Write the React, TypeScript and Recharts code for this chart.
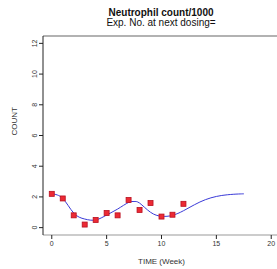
import React from 'react';
import { ComposedChart, Line, Scatter, XAxis, YAxis, ReferenceLine } from 'recharts';

const weeks = [0, 1, 2, 3, 4, 5, 6, 7, 8, 9, 10, 11, 12];
const observed = [2.2, 1.9, 0.8, 0.2, 0.5, 0.95, 0.8, 1.8, 1.15, 1.6, 0.72, 0.84, 1.55];

const fitWeeks = [0, 1, 2, 3, 4, 5, 6, 7, 7.5, 8, 9, 10, 11, 12, 13, 14, 15, 16, 17, 17.5];
const fitted = [2.2, 1.9, 0.95, 0.56, 0.5, 0.82, 1.21, 1.64, 1.7, 1.6, 1.0, 0.74, 0.8, 1.1, 1.49, 1.82, 2.03, 2.14, 2.19, 2.2];

const xTicks = [0, 5, 10, 15, 20];
const yTicks = [0, 2, 4, 6, 8, 10, 12];

const points = weeks.map((t, i) => ({ t, count: observed[i] }));
const curve = fitWeeks.map((t, i) => ({ t, fit: fitted[i] }));

const font = 'Liberation Sans, Arial, sans-serif';

const RedSquare = (props: any) => {
  const { cx, cy } = props;
  return <rect x={cx - 2.5} y={cy - 2.5} width={5} height={5} fill="#ec2a34" stroke="#b81020" strokeWidth={0.8} />;
};

const YTick = (props: any) => {
  const { x, y, payload } = props;
  return (
    <text x={x} y={y} transform={`rotate(-90 ${x} ${y})`} textAnchor="middle" fontSize={7} fill="#333" fontFamily={font}>
      {payload.value}
    </text>
  );
};

export default function App() {
  return (
    <div style={{ position: 'absolute', left: 0, top: 0, width: 277, height: 269, overflow: 'hidden', background: '#fff' }}>
      <div style={{ position: 'absolute', left: 0, top: 8, width: 322, textAlign: 'center', fontFamily: font, fontSize: 10, lineHeight: '10px', color: '#111' }}>
        <div style={{ fontWeight: 'bold' }}>Neutrophil count/1000</div>
        <div>Exp. No. at next dosing=</div>
      </div>
      <ComposedChart width={280} height={269} margin={{ top: 36, right: 0, bottom: 33, left: 42 }}>
        <XAxis
          dataKey="t"
          type="number"
          domain={[-0.8, 20.8]}
          ticks={xTicks}
          allowDataOverflow
          axisLine={{ stroke: '#999' }}
          tickLine={{ stroke: '#222' }}
          tickSize={4}
          tick={{ fontSize: 7, fill: '#333', fontFamily: font }}
          label={{ value: 'TIME (Week)', position: 'insideBottom', offset: -28, fontSize: 8, fill: '#333', fontFamily: font }}
          height={1}
        />
        <YAxis
          type="number"
          domain={[-0.48, 12.48]}
          ticks={yTicks}
          allowDataOverflow
          axisLine={{ stroke: '#222' }}
          tickLine={{ stroke: '#222' }}
          tickSize={4}
          tick={<YTick />}
          width={1}
          label={{ value: 'COUNT', angle: -90, position: 'insideLeft', offset: -28, fontSize: 8, fill: '#333', fontFamily: font }}
        />
        <ReferenceLine y={12.48} stroke="#999" strokeWidth={1.5} />
        <Line
          data={curve}
          dataKey="fit"
          type="natural"
          stroke="#3a3ad8"
          strokeWidth={1}
          dot={false}
          isAnimationActive={false}
        />
        <Scatter data={points} dataKey="count" shape={<RedSquare />} isAnimationActive={false} />
      </ComposedChart>
    </div>
  );
}
